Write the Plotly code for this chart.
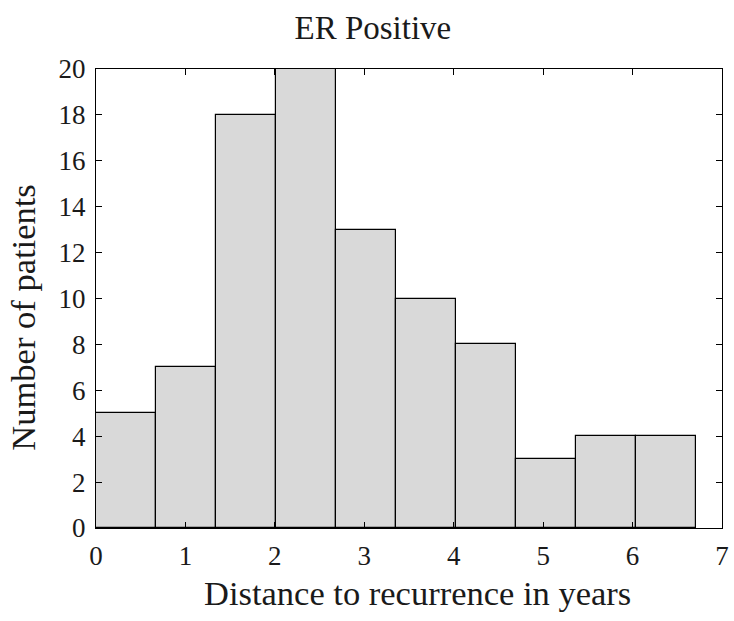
import plotly.graph_objects as go

bin_start = 0.0
bin_width = 0.6707
counts = [5, 7, 18, 20, 13, 10, 8, 3, 4, 4]
x_ticks = [0, 1, 2, 3, 4, 5, 6, 7]
y_ticks = [0, 2, 4, 6, 8, 10, 12, 14, 16, 18, 20]

centers = [bin_start + bin_width * (i + 0.5) for i in range(len(counts))]

fig = go.Figure(go.Bar(
    x=centers, y=counts, width=[bin_width] * len(counts),
    marker=dict(color="#d9d9d9", line=dict(color="black", width=1.2)),
))

font = "Liberation Serif"
axis_common = dict(
    showline=True, linecolor="black", linewidth=1.2, mirror="ticks",
    ticks="inside", ticklen=6, tickcolor="black", tickwidth=1,
    showgrid=False, zeroline=False, automargin=False,
    tickfont=dict(family=font, size=27, color="#1a1a1a"),
)
fig.update_layout(
    width=734, height=621,
    margin=dict(l=96, r=12, t=69, b=93),
    paper_bgcolor="white", plot_bgcolor="white",
    bargap=0, showlegend=False,
    title=dict(text="ER Positive", x=0.508, xanchor="center", xref="container",
               y=1 - 27 / 621, yanchor="middle",
               font=dict(family=font, size=33, color="#1a1a1a")),
    xaxis=dict(range=[0, 7], tickvals=x_ticks, ticklabelstandoff=3, **axis_common),
    yaxis=dict(range=[0, 20], tickvals=y_ticks, ticklabelstandoff=4, **axis_common),
    annotations=[
        dict(text="Distance to recurrence in years", xref="paper", yref="paper",
             x=0.514, y=-0.1416, xanchor="center", yanchor="middle", showarrow=False,
             font=dict(family=font, size=34.5, color="#1a1a1a")),
        dict(text="Number of patients", xref="paper", yref="paper", textangle=-90,
             x=-0.118, y=0.4586, xanchor="center", yanchor="middle", showarrow=False,
             font=dict(family=font, size=34.5, color="#1a1a1a")),
    ],
)
fig.write_html("out.html")
